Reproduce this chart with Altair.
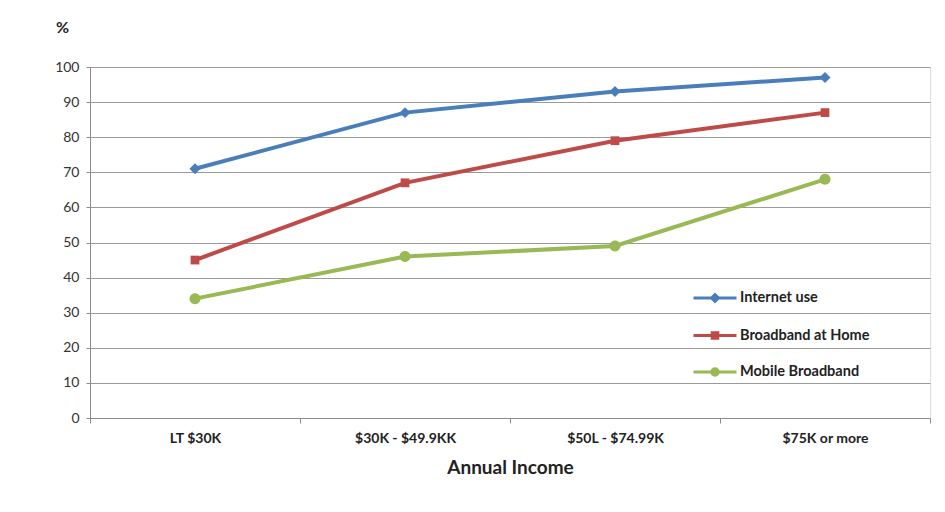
import altair as alt
import pandas as pd

categories = ["LT $30K", "$30K - $49.9KK", "$50L - $74.99K", "$75K or more"]
series_names = ["Internet use", "Broadband at Home", "Mobile Broadband"]
internet_use = [71, 87, 93, 97]
broadband_home = [45, 67, 79, 87]
mobile_broadband = [34, 46, 49, 68]
colors = ["#4A7EBB", "#BE4B48", "#98B954"]

marker_paths = [
    "M0,-1L1,0L0,1L-1,0Z",
    "M-0.8,-0.8H0.8V0.8H-0.8Z",
    "M-1,0A1,1,0,1,0,1,0A1,1,0,1,0,-1,0Z",
]
legend_paths = [
    "M-1,0H1M0,-0.16L0.16,0L0,0.16L-0.16,0ZM0,-0.06L0.06,0L0,0.06L-0.06,0Z",
    "M-1,0H1M-0.13,-0.13H0.13V0.13H-0.13ZM-0.05,-0.05H0.05V0.05H-0.05Z",
    "M-1,0H1M-0.15,0A0.15,0.15,0,1,0,0.15,0A0.15,0.15,0,1,0,-0.15,0Z"
    "M-0.05,0A0.05,0.05,0,1,0,0.05,0A0.05,0.05,0,1,0,-0.05,0Z",
]

rows = []
for name, vals in zip(series_names, [internet_use, broadband_home, mobile_broadband]):
    for c, v in zip(categories, vals):
        rows.append({"category": c, "series": name, "value": v})
df = pd.DataFrame(rows)

FONT = "Lato"

x_enc = alt.X(
    "category:N",
    sort=categories,
    bandPosition=0.5,
    scale=alt.Scale(type="band", paddingInner=0, paddingOuter=0),
    axis=alt.Axis(
        title="Annual Income",
        tickBand="extent",
        labelAngle=0,
        labelFont=FONT,
        labelFontWeight="bold",
        labelFontSize=14,
        labelColor="#222222",
        labelPadding=8,
        titleFont=FONT,
        titleFontWeight="bold",
        titleFontSize=19,
        titleColor="#222222",
        titlePadding=13,
        domainColor="#8c8c8c",
        tickColor="#8c8c8c",
        tickSize=5,
        grid=False,
    ),
)
y_enc = alt.Y(
    "value:Q",
    scale=alt.Scale(domain=[0, 100], nice=False),
    axis=alt.Axis(
        title="%",
        titleAngle=0,
        titleX=-28,
        titleY=-32,
        titleFont=FONT,
        titleFontWeight="bold",
        titleFontSize=16,
        titleColor="#222222",
        values=list(range(0, 101, 10)),
        labelFont=FONT,
        labelFontSize=14,
        labelColor="#333333",
        labelPadding=7,
        domainColor="#8c8c8c",
        tickColor="#8c8c8c",
        tickSize=4,
        gridColor="#9a9a9a",
        gridWidth=1,
    ),
)

color_scale = alt.Scale(domain=series_names, range=colors)

lines = alt.Chart(df).mark_line(strokeWidth=4).encode(
    x=x_enc,
    y=y_enc,
    color=alt.Color("series:N", scale=color_scale, legend=None),
)

points = alt.Chart(df).mark_point(filled=True, opacity=1, size=120).encode(
    x=x_enc,
    y=y_enc,
    color=alt.Color("series:N", scale=color_scale, legend=None),
    shape=alt.Shape("series:N", scale=alt.Scale(domain=series_names, range=marker_paths), legend=None),
)

leg = dict(
    title=None,
    orient="none",
    legendX=602,
    legendY=208,
    direction="vertical",
    symbolSize=1849,
    symbolStrokeWidth=3,
    labelFont=FONT,
    labelFontWeight="bold",
    labelFontSize=14.5,
    labelColor="#222222",
    labelOffset=2,
    rowPadding=4.5,
)

legend_layer = alt.Chart(df).mark_point(filled=False, opacity=0, size=110).encode(
    x=x_enc,
    y=y_enc,
    stroke=alt.Stroke("series:N", scale=alt.Scale(domain=series_names, range=colors), legend=alt.Legend(**leg)),
    shape=alt.Shape("series:N", scale=alt.Scale(domain=series_names, range=legend_paths), legend=alt.Legend(**leg)),
)

chart = (
    alt.layer(lines, points, legend_layer)
    .resolve_scale(shape="independent", stroke="independent")
    .properties(
        width=840,
        height=351,
        autosize=alt.AutoSizeParams(type="none"),
        padding={"left": 82, "top": 59, "right": 5, "bottom": 85},
    )
    .configure_view(stroke=None)
    .configure(background="white")
)

chart.save("out.html", embed_options={"renderer": "svg", "actions": False})
